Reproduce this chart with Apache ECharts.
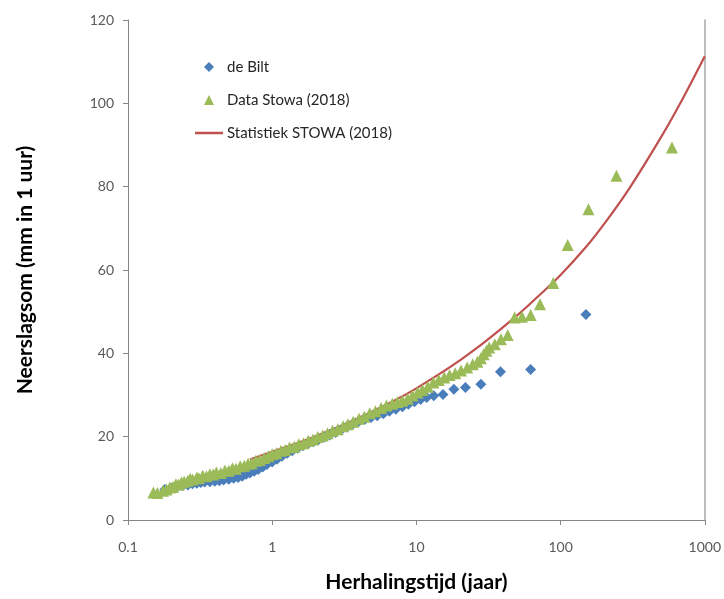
<!DOCTYPE html>
<html>
<head>
<meta charset="utf-8">
<script src="https://cdn.jsdelivr.net/npm/echarts@6/dist/echarts.min.js"></script>
<style>html,body{margin:0;padding:0;background:#fff}#c{width:724px;height:599px}</style>
</head>
<body>
<div id="c"></div>
<script>
// ---- data ----
var xTickLabels = ['0.1', '1', '10', '100', '1000'];
var yTickLabels = ['0', '20', '40', '60', '80', '100', '120'];

var seriesNames = ['de Bilt', 'Data Stowa (2018)', 'Statistiek STOWA (2018)'];

var blueT = [0.18,0.2,0.22,0.24,0.26,0.28,0.3,0.32,0.34,0.37,0.4,0.43,0.46,0.5,0.54,0.58,0.62,0.66,0.7,0.75,0.8,0.86,0.92,1.0,1.08,1.17,1.27,1.38,1.5,1.63,1.77,1.93,2.1,2.3,2.5,2.75,3.0,3.3,3.6,4.0,4.4,4.85,5.35,5.9,6.5,7.2,8.0,8.8,9.7,10.7,11.8,13.2,15.3,18.2,21.9,28.0,38.3,62,150];
var blueV = [7.3,7.6,8.0,8.3,8.4,8.7,8.8,9.0,9.1,9.2,9.3,9.4,9.6,9.8,10.0,10.2,10.5,11.0,11.3,11.7,12.1,12.7,13.3,13.9,14.6,15.3,16.0,16.6,17.2,17.8,18.3,18.8,19.3,19.9,20.4,21.0,21.6,22.3,22.9,23.7,24.2,24.6,25.0,25.5,26.1,26.6,27.2,27.8,28.4,28.9,29.4,29.8,30.1,31.4,31.8,32.6,35.6,36.1,49.3];

var greenT = [0.15,0.16,0.175,0.185,0.195,0.205,0.215,0.225,0.235,0.245,0.26,0.27,0.28,0.3,0.31,0.33,0.35,0.37,0.39,0.41,0.44,0.47,0.5,0.53,0.56,0.6,0.64,0.68,0.72,0.77,0.82,0.88,0.94,1.0,1.07,1.15,1.23,1.32,1.42,1.53,1.65,1.78,1.92,2.07,2.24,2.42,2.62,2.85,3.1,3.35,3.65,4.0,4.35,4.75,5.2,5.7,6.2,6.8,7.4,8.0,8.7,9.4,10.2,11.0,12.0,13.1,14.3,15.6,17.0,18.6,20.4,22.5,24.6,26.5,28.0,29.3,30.6,32.0,35.0,38.6,43.0,48.0,54.0,62.0,72.0,89.0,112,156,244,592];
var greenV = [6.6,6.5,7.0,7.3,7.8,7.9,8.6,8.5,9.0,9.2,9.4,9.9,9.7,10.2,10.0,10.6,10.5,11.0,10.9,11.4,11.3,11.9,11.8,12.4,12.3,12.9,13.0,13.5,13.6,14.2,14.4,14.9,15.3,15.8,16.0,16.6,16.8,17.4,17.6,18.2,18.4,19.0,19.3,19.9,20.3,20.8,21.4,21.8,22.5,23.0,23.6,24.3,24.8,25.6,26.1,26.9,27.5,27.9,28.3,28.6,29.1,29.9,30.6,31.2,32.0,33.0,33.6,34.2,34.8,35.2,35.9,36.6,37.4,38.0,38.8,39.8,40.6,41.4,42.2,43.4,44.4,48.6,48.8,49.2,51.8,56.9,66.0,74.6,82.6,89.4];

var curveT = [0.7,1,1.5,2,3,5,7,10,15,20,30,50,70,100,150,200,300,500,700,1000];
var curveV = [14.5,16.4,18.5,20.1,22.6,26.1,28.6,31.6,35.4,38.3,42.8,49.1,53.7,58.8,65.5,71.0,79.6,92.0,101.0,111.3];

function pairs(xs, ys) { return xs.map(function (x, i) { return [x, ys[i]]; }); }

var FONT = 'Lato';
var legendText = { fontFamily: FONT, fontSize: 15, color: '#262626' };
var chart = echarts.init(document.getElementById('c'), null, { renderer: 'canvas' });
chart.setOption({
  animation: false,
  backgroundColor: '#ffffff',
  grid: { left: 128, right: 16, top: 20, bottom: 79, containLabel: false },
  legend: [{
    left: 199, top: 54.5, orient: 'vertical',
    itemWidth: 10, itemHeight: 10, itemGap: 18,
    textStyle: Object.assign({ padding: [0, 0, 0, 8] }, legendText),
    data: [
      { name: seriesNames[0], icon: 'diamond' },
      { name: seriesNames[1], icon: 'triangle' }
    ]
  }, {
    left: 190, top: 120.5, orient: 'vertical',
    itemWidth: 28, itemHeight: 2.5, itemGap: 18,
    textStyle: Object.assign({ padding: [0, 0, 0, -1] }, legendText),
    data: [{ name: seriesNames[2], icon: 'rect' }]
  }],
  xAxis: {
    type: 'log', logBase: 10, min: 0.1, max: 1000,
    name: 'Herhalingstijd (jaar)', nameLocation: 'middle', nameGap: 52,
    nameTextStyle: { fontFamily: FONT, fontSize: 21, fontWeight: 'bold', color: '#000' },
    axisLine: { show: true, lineStyle: { color: '#868686', width: 1 } },
    axisTick: { show: true, length: 5, lineStyle: { color: '#868686' } },
    splitLine: { show: false },
    minorTick: { show: false },
    axisLabel: {
      margin: 20, fontFamily: FONT, fontSize: 14, color: '#595959',
      formatter: function (v) { var k = Math.round(Math.log(v) / Math.LN10) + 1; return xTickLabels[k] || ''; }
    }
  },
  yAxis: [{
    type: 'value', min: 0, max: 120, interval: 20,
    name: 'Neerslagsom (mm in 1 uur)', nameLocation: 'middle', nameGap: 92, nameRotate: 90,
    nameTextStyle: { fontFamily: FONT, fontSize: 21, fontWeight: 'bold', color: '#000' },
    axisLine: { show: true, lineStyle: { color: '#868686', width: 1 } },
    axisTick: { show: true, length: 5, lineStyle: { color: '#868686' } },
    splitLine: { show: false },
    axisLabel: {
      margin: 14, fontFamily: FONT, fontSize: 14, color: '#595959',
      formatter: function (v) { return yTickLabels[Math.round(v / 20)]; }
    }
  }, {
    type: 'value', min: 0, max: 120, position: 'right',
    axisLine: { show: true, lineStyle: { color: '#a6a6a6', width: 1.5 } },
    axisTick: { show: false }, axisLabel: { show: false }, splitLine: { show: false }
  }],
  series: [
    {
      name: seriesNames[2], type: 'line', data: pairs(curveT, curveV),
      smooth: 0.4, symbol: 'none', z: 1,
      lineStyle: { color: '#c0504d', width: 2.2 }, itemStyle: { color: '#c0504d' }
    },
    {
      name: seriesNames[0], type: 'scatter', data: pairs(blueT, blueV),
      symbol: 'diamond', symbolSize: 11, z: 2,
      itemStyle: { color: '#4a7ebb', opacity: 1 }
    },
    {
      name: seriesNames[1], type: 'scatter', data: pairs(greenT, greenV),
      symbol: 'triangle', symbolSize: 12, z: 3,
      itemStyle: { color: '#9bbb59', opacity: 1 }
    }
  ]
});
</script>
</body>
</html>
